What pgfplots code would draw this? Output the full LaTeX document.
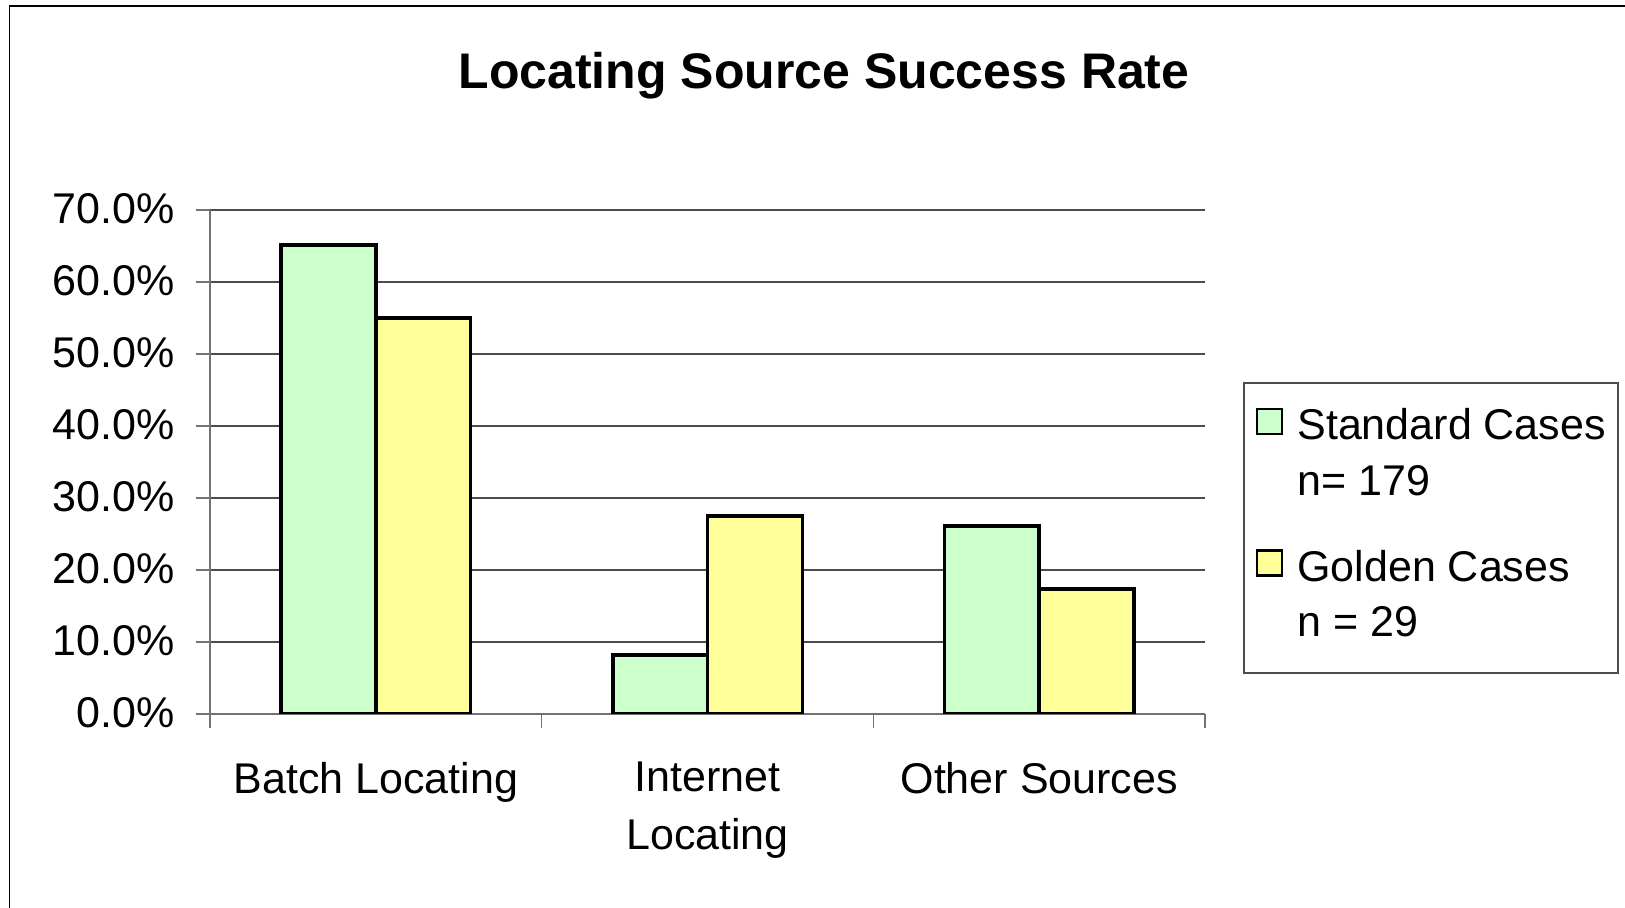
\documentclass[border=0pt]{standalone}
\usepackage{fontspec}
\setmainfont{Liberation Sans}
\usepackage{pgfplots}
\usepackage{pgfplotstable}
\pgfplotsset{compat=1.18}

\definecolor{stdgreen}{HTML}{CCFFCC}
\definecolor{goldyellow}{HTML}{FFFF99}

% success rate in percent, one row per source
\pgfplotstableread{
idx std gold
0 65.1 55.0
1 8.2 27.5
2 26.1 17.4
}\successdata

\begin{document}
\begin{tikzpicture}[x=1pt,y=1pt]
\useasboundingbox (0,0) rectangle (812.5,454);
% outer chart frame (only left and top edges are in view)
\draw[line width=0.8pt] (4.75,-5) -- (4.75,451) -- (820,451);
\node[anchor=base, font=\fontsize{25}{30}\selectfont\bfseries] at (412,409.5) {Locating Source Success Rate};

\begin{axis}[
    at={(105pt,97pt)}, anchor=south west,
    scale only axis,
    width=497.5pt, height=252pt,
    ybar=0pt, bar width=47.4pt,
    xmin=-0.5, xmax=2.5,
    ymin=0, ymax=70,
    xtick={-0.5,0.5,1.5,2.5},
    x tick label as interval,
    xticklabels={Batch Locating, Internet\\Locating, Other Sources},
    ytick={0,10,...,70},
    yticklabel={\pgfmathprintnumber[fixed,fixed zerofill,precision=1]{\tick}\%},
    /pgf/number format/assume math mode=true,
    axis lines=left,
    axis line style={-, black!55, line width=0.8pt},
    tick align=outside,
    major tick length=7pt,
    tick style={black!55, line width=0.8pt},
    ymajorgrids,
    grid style={black!70, line width=0.7pt},
    tick label style={font=\fontsize{21.5}{29}\selectfont},
    xticklabel style={align=center, anchor=north, inner sep=0pt, yshift=-17pt},
    yticklabel style={anchor=east, inner sep=0pt, text height=15.4pt, text depth=0pt, xshift=-10.5pt, yshift=1pt},
    legend style={at={(1.0382,0.6587)}, anchor=north west,
        draw=black!70, line width=0.8pt,
        inner xsep=6pt, inner ysep=12pt,
        row sep=0pt, column sep=7pt,
        font=\fontsize{21.5}{29}\selectfont},
    legend cell align=left,
    sqlegend/.style={legend image code/.code={
        \draw[##1, line width=1.3pt] (0pt,0.5pt) rectangle (12.5pt,13pt);}},
]
\addplot[draw=black, line width=1.8pt, fill=stdgreen, bar shift=-23.7pt, sqlegend]
    table[x=idx, y=std] {\successdata};
\addlegendentry[inner sep=0pt, text height=16.5pt, text depth=11.5pt]{Standard Cases}
\addlegendimage{empty legend}
\addlegendentry[inner sep=0pt, text height=16.5pt, text depth=26.5pt]{n= 179}
\addplot[draw=black, line width=1.8pt, fill=goldyellow, bar shift=23.7pt, sqlegend]
    table[x=idx, y=gold] {\successdata};
\addlegendentry[inner sep=0pt, text height=16.5pt, text depth=11pt]{Golden Cases}
\addlegendimage{empty legend}
\addlegendentry[inner sep=0pt, text height=16.5pt, text depth=6pt]{n = 29}
\end{axis}
\end{tikzpicture}
\end{document}
